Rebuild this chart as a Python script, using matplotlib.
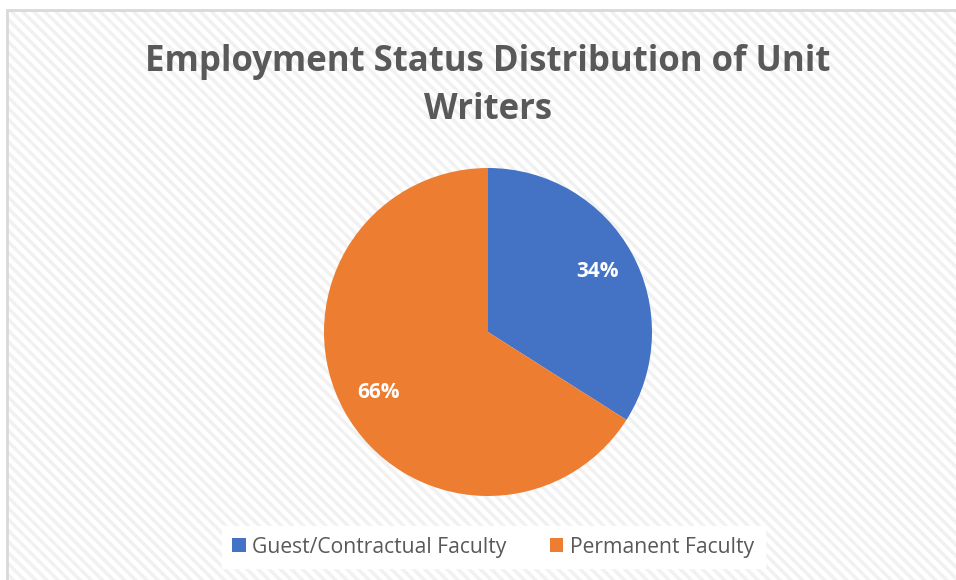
import matplotlib.pyplot as plt
from matplotlib.patches import Rectangle

plt.rcParams['font.family'] = ['Open Sans', 'DejaVu Sans']

labels = ["Guest/Contractual Faculty", "Permanent Faculty"]
shares = [34, 66]
colors = ["#4472C4", "#ED7D31"]
title = "Employment Status Distribution of Unit\nWriters"

W, H = 956, 580
fig = plt.figure(figsize=(W / 100, H / 100), dpi=100)
fig.patch.set_facecolor("white")

# chart area: light diagonal stripes, grey frame (runs off right/bottom)
plt.rcParams['hatch.linewidth'] = 2.5
bg = Rectangle((7 / W, -0.05), 1.0, (H - 10) / H + 0.05, transform=fig.transFigure,
               facecolor="white", edgecolor="#f1f1f1", hatch="\\\\\\", linewidth=0,
               zorder=-2)
fig.patches.append(bg)
frame = Rectangle((7 / W, -0.05), 1.0, (H - 10) / H + 0.05, transform=fig.transFigure,
                  facecolor="none", edgecolor="#d9d9d9", linewidth=2, zorder=-1)
fig.patches.append(frame)

cx, cy, r = 488, 332, 164
ax = fig.add_axes([(cx - r) / W, (H - cy - r) / H, 2 * r / W, 2 * r / H], zorder=2)
wedges, texts, autotexts = ax.pie(shares, colors=colors, startangle=90, counterclock=False,
                                  autopct="%d%%", pctdistance=0.76,
                                  wedgeprops=dict(linewidth=0))
for t in autotexts:
    t.set_color("white")
    t.set_fontsize(15)
    t.set_fontweight("bold")
ax.set_xlim(-1, 1)
ax.set_ylim(-1, 1)
ax.set_aspect("equal")
ax.axis("off")

fig.text(cx / W, 1 - 86 / H, title, ha="center", va="center", fontsize=25,
         fontweight="bold", color="#595959", linespacing=1.45)

leg = fig.legend(wedges, labels, loc="center", bbox_to_anchor=(493 / W, 1 - 547 / H),
                 ncol=2, frameon=True, fancybox=False, fontsize=15.2, handlelength=0.65,
                 handleheight=0.65, handletextpad=0.3, columnspacing=2.05,
                 borderpad=0.5, borderaxespad=0, labelcolor="#595959")
leg.get_frame().set_facecolor("white")
leg.get_frame().set_edgecolor("white")
leg.get_frame().set_alpha(1)
leg.set_zorder(3)

fig.savefig("out.png", dpi=100)
